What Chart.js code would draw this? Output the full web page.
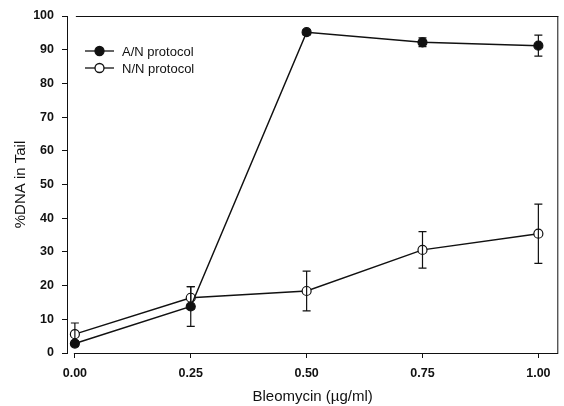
<!DOCTYPE html>
<html><head><meta charset="utf-8">
<script src="https://cdn.jsdelivr.net/npm/chart.js@4/dist/chart.umd.min.js"></script>
<style>html,body{margin:0;padding:0;background:#fff}#wrap{width:564px;height:406px}</style>
</head><body><div id="wrap"><canvas id="c" width="564" height="406"></canvas></div>
<script>
const doses = [0, 0.25, 0.5, 0.75, 1.0];
const anMean = [2.8, 13.8, 95.2, 92.2, 91.2];
const anErr  = [0.8, 5.9, 0.8, 1.3, 3.1];
const nnMean = [5.6, 16.4, 18.4, 30.6, 35.4];
const nnErr  = [3.3, 3.3, 5.9, 5.4, 8.8];
const xTicks = [0, 0.25, 0.5, 0.75, 1.0];
const seriesNames = ['A/N protocol', 'N/N protocol'];

const FONT = '"Liberation Sans", Arial, sans-serif';

const errPlugin = {
  id: 'err',
  afterDatasetsDraw(chart) {
    const ctx = chart.ctx, xs = chart.scales.x, ys = chart.scales.y;
    const sets = [[anMean, anErr], [nnMean, nnErr]];
    ctx.save();
    ctx.strokeStyle = '#111'; ctx.lineWidth = 1.2;
    sets.forEach(([m, e]) => {
      doses.forEach((d, i) => {
        const x = xs.getPixelForValue(d);
        const y1 = ys.getPixelForValue(m[i] + e[i]);
        const y2 = ys.getPixelForValue(m[i] - e[i]);
        ctx.beginPath();
        ctx.moveTo(x, y1); ctx.lineTo(x, y2);
        ctx.moveTo(x - 4, y1); ctx.lineTo(x + 4, y1);
        ctx.moveTo(x - 4, y2); ctx.lineTo(x + 4, y2);
        ctx.stroke();
      });
    });
    ctx.restore();
  }
};

const framePlugin = {
  id: 'frame',
  afterDraw(chart) {
    const ctx = chart.ctx, a = chart.chartArea, xs = chart.scales.x;
    const x0 = xs.getPixelForValue(0) - 1;
    ctx.save();
    ctx.strokeStyle = '#111'; ctx.lineWidth = 1;
    ctx.beginPath();
    ctx.moveTo(x0, a.bottom + 0.5); ctx.lineTo(a.right, a.bottom + 0.5);
    ctx.moveTo(x0 + 2, a.top + 0.5); ctx.lineTo(a.right, a.top + 0.5);
    ctx.moveTo(a.right - 0.5, a.top); ctx.lineTo(a.right - 0.5, a.bottom);
    ctx.stroke();
    // legend
    const rows = [{y: 51, fill: '#111'}, {y: 68, fill: '#fff'}];
    rows.forEach((r, i) => {
      ctx.beginPath();
      ctx.lineWidth = 1.3;
      ctx.moveTo(85, r.y); ctx.lineTo(114, r.y); ctx.stroke();
      ctx.beginPath();
      ctx.arc(99.5, r.y, 4.5, 0, Math.PI * 2);
      ctx.fillStyle = r.fill; ctx.fill(); ctx.stroke();
      ctx.fillStyle = '#111';
      ctx.font = '13px ' + FONT;
      ctx.textBaseline = 'middle';
      ctx.fillText(seriesNames[i], 122, r.y + 1);
    });
    ctx.restore();
  }
};

new Chart(document.getElementById('c'), {
  type: 'line',
  data: {
    datasets: [
      { label: seriesNames[0], data: doses.map((d, i) => ({x: d, y: anMean[i]})),
        borderColor: '#111', backgroundColor: '#111', borderWidth: 1.5,
        pointRadius: 4.5, pointBackgroundColor: '#111', pointBorderColor: '#111', pointBorderWidth: 1.2, tension: 0 },
      { label: seriesNames[1], data: doses.map((d, i) => ({x: d, y: nnMean[i]})),
        borderColor: '#111', backgroundColor: '#fff', borderWidth: 1.5,
        pointRadius: 4.5, pointBackgroundColor: '#fff', pointBorderColor: '#111', pointBorderWidth: 1.2, tension: 0 }
    ]
  },
  options: {
    responsive: false, animation: false,
    layout: { padding: { top: 16, right: 4, left: 0, bottom: 0 } },
    plugins: { legend: { display: false }, tooltip: { enabled: false } },
    scales: {
      x: {
        type: 'linear', min: -0.017, max: 1.043,
        afterBuildTicks: s => { s.ticks = xTicks.map(v => ({value: v})); },
        afterFit: s => { s.height = 53; },
        grid: { drawOnChartArea: false, tickLength: 5, color: '#111', tickWidth: 1 },
        border: { display: false },
        ticks: { color: '#111', font: { family: FONT, size: 12.5, weight: 'bold' }, padding: 8,
                 maxRotation: 0, callback: v => v.toFixed(2) },
        title: { display: true, text: 'Bleomycin (µg/ml)', color: '#111',
                 font: { family: FONT, size: 15 }, padding: { top: 0, bottom: 0 } }
      },
      y: {
        min: 0, max: 100,
        ticks: { stepSize: 10, color: '#111', font: { family: FONT, size: 12.5, weight: 'bold' }, padding: 8 },
        afterFit: s => { s.width = 67; },
        grid: { drawOnChartArea: false, tickLength: 5, color: '#111', tickWidth: 1 },
        border: { display: true, color: '#111', width: 1 },
        title: { display: true, text: '%DNA in Tail', color: '#111',
                 font: { family: FONT, size: 15 }, padding: { top: 12, bottom: 0 } }
      }
    }
  },
  plugins: [errPlugin, framePlugin]
});
</script></body></html>
